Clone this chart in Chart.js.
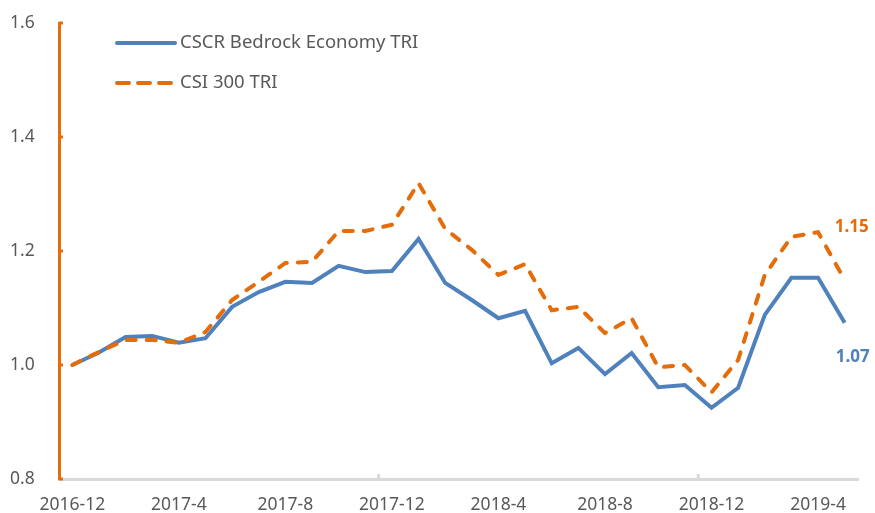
<!DOCTYPE html>
<html>
<head>
<meta charset="utf-8">
<script src="https://cdn.jsdelivr.net/npm/chart.js@4.4.1/dist/chart.umd.min.js"></script>
<style>
    html, body { margin: 0; padding: 0; background: #fff; }
    #wrap { width: 875px; height: 513px; position: relative; }
</style>
</head>
<body>
<div id="wrap"><canvas id="myChart"></canvas></div>
<script>
const months = [
    '2016-12', '2017-1', '2017-2', '2017-3', '2017-4', '2017-5', '2017-6', '2017-7', '2017-8', '2017-9',
    '2017-10', '2017-11', '2017-12', '2018-1', '2018-2', '2018-3', '2018-4', '2018-5', '2018-6', '2018-7',
    '2018-8', '2018-9', '2018-10', '2018-11', '2018-12', '2019-1', '2019-2', '2019-3', '2019-4', '2019-5'
];
const bedrockName = 'CSCR Bedrock Economy TRI';
const bedrock = [
    1.000, 1.022, 1.049, 1.051, 1.039, 1.047, 1.102, 1.128, 1.146, 1.144,
    1.174, 1.163, 1.165, 1.221, 1.144, 1.114, 1.082, 1.095, 1.003, 1.030,
    0.984, 1.021, 0.961, 0.965, 0.925, 0.960, 1.088, 1.153, 1.153, 1.074
];
const csiName = 'CSI 300 TRI';
const csi = [
    1.000, 1.023, 1.044, 1.044, 1.039, 1.058, 1.114, 1.146, 1.179, 1.181,
    1.235, 1.235, 1.246, 1.319, 1.239, 1.202, 1.158, 1.177, 1.096, 1.102,
    1.056, 1.082, 0.996, 1.000, 0.952, 1.009, 1.158, 1.225, 1.233, 1.149
];
const endLabels = ['1.07', '1.15'];

const BLUE = '#4f81bd';
const ORANGE = '#e46c0a';
const GREY = '#595959';
const FONT = '"Noto Sans", "Open Sans", sans-serif';

// tick marks drawn inside the axes, legend and end-of-line labels
const decorPlugin = {
    id: 'decor',
    afterDraw(chart) {
        const ctx = chart.ctx;
        const area = chart.chartArea;
        const x = chart.scales.x;
        const y = chart.scales.y;
        ctx.save();

        // y tick marks (orange, pointing right)
        ctx.strokeStyle = ORANGE;
        ctx.lineWidth = 3;
        y.ticks.forEach(function (t) {
            const py = y.getPixelForValue(t.value);
            ctx.beginPath();
            ctx.moveTo(area.left, py);
            ctx.lineTo(area.left + 4, py);
            ctx.stroke();
        });

        // x tick marks every 12 categories (grey, pointing up)
        ctx.strokeStyle = '#d9d9d9';
        ctx.lineWidth = 3;
        [11, 23].forEach(function (i) {
            const px = (x.getPixelForValue(i) + x.getPixelForValue(i + 1)) / 2;
            ctx.beginPath();
            ctx.moveTo(px, area.bottom);
            ctx.lineTo(px, area.bottom - 5);
            ctx.stroke();
        });

        // legend
        const items = [
            { text: bedrockName, color: BLUE, dash: [] },
            { text: csiName, color: ORANGE, dash: [12, 9] }
        ];
        items.forEach(function (it, k) {
            const ly = 43 + k * 40;
            ctx.strokeStyle = it.color;
            ctx.lineWidth = 4;
            ctx.lineCap = 'round';
            ctx.setLineDash(it.dash);
            ctx.beginPath();
            ctx.moveTo(117, ly);
            ctx.lineTo(175, ly);
            ctx.stroke();
            ctx.setLineDash([]);
            ctx.fillStyle = GREY;
            ctx.font = '18.5px ' + FONT;
            ctx.textBaseline = 'middle';
            ctx.textAlign = 'left';
            ctx.fillText(it.text, 180, ly);
        });

        // end labels
        const blueLast = chart.getDatasetMeta(1).data[bedrock.length - 1];
        const orangeLast = chart.getDatasetMeta(0).data[csi.length - 1];
        ctx.font = 'bold 17px ' + FONT;
        ctx.textBaseline = 'middle';
        ctx.textAlign = 'left';
        ctx.fillStyle = BLUE;
        ctx.fillText(endLabels[0], blueLast.x - 9, blueLast.y + 34);
        ctx.fillStyle = ORANGE;
        ctx.fillText(endLabels[1], orangeLast.x - 10, orangeLast.y - 53);

        ctx.restore();
    }
};

const data = {
    labels: months,
    datasets: [{
        label: csiName,
        data: csi,
        borderColor: ORANGE,
        backgroundColor: ORANGE,
        borderWidth: 4,
        borderDash: [9, 11],
        borderCapStyle: 'round',
        pointRadius: 0,
        tension: 0,
        order: 0
    }, {
        label: bedrockName,
        data: bedrock,
        borderColor: BLUE,
        backgroundColor: BLUE,
        borderWidth: 4,
        pointRadius: 0,
        tension: 0,
        order: 1
    }]
};

const config = {
    type: 'line',
    data: data,
    options: {
        responsive: true,
        maintainAspectRatio: false,
        animation: false,
        layout: {
            padding: { top: 23, right: 17, bottom: 0, left: 10 }
        },
        plugins: {
            legend: { display: false },
            tooltip: { enabled: false }
        },
        scales: {
            x: {
                offset: true,
                grid: { display: false, drawTicks: false },
                border: { color: '#d9d9d9', width: 3 },
                ticks: {
                    autoSkip: false,
                    maxRotation: 0,
                    padding: 16,
                    color: GREY,
                    font: { family: FONT, size: 17.5 },
                    callback: function (value, index) {
                        return index % 4 === 0 ? months[index] : '';
                    }
                },
                afterFit: function (scale) {
                    scale.height = 34;
                }
            },
            y: {
                min: 0.8,
                max: 1.6,
                grid: { display: false, drawTicks: false },
                border: { color: ORANGE, width: 3 },
                ticks: {
                    stepSize: 0.2,
                    padding: 0,
                    crossAlign: 'far',
                    color: GREY,
                    font: { family: FONT, size: 17.5 },
                    callback: function (value) {
                        return value.toFixed(1);
                    }
                },
                afterFit: function (scale) {
                    scale.width = 49;
                }
            }
        }
    },
    plugins: [decorPlugin]
};

var myChart = new Chart(
    document.getElementById('myChart'),
    config
);
</script>
</body>
</html>
